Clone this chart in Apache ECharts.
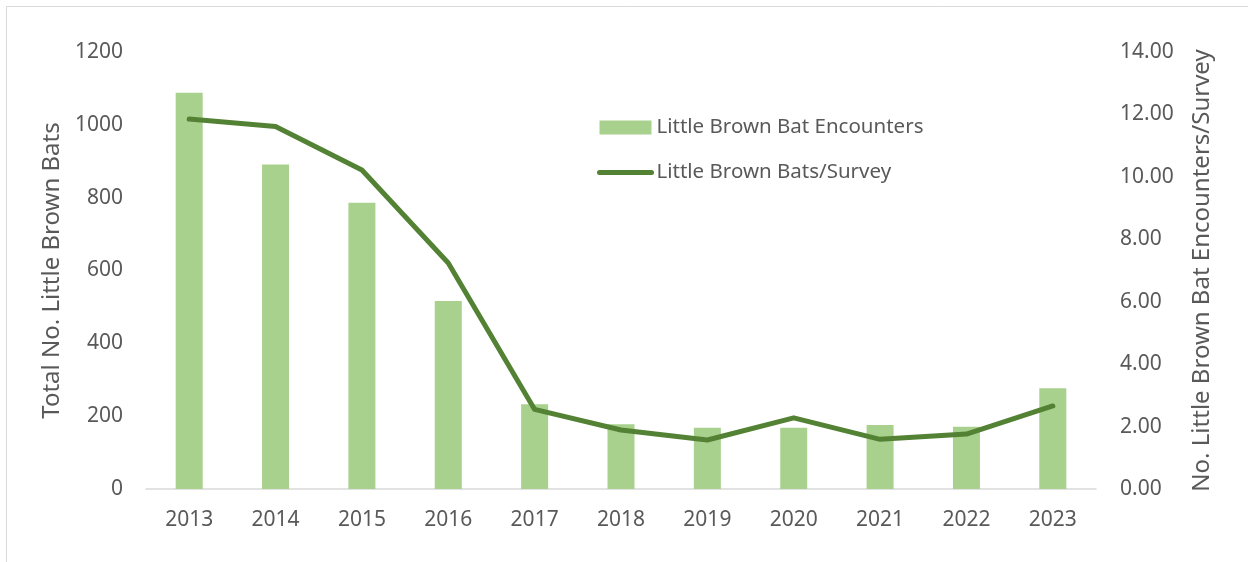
<!DOCTYPE html>
<html style="height: 100%">
<head>
<meta charset="utf-8">
<title>Little Brown Bats</title>
<script src="https://cdn.jsdelivr.net/npm/echarts@6/dist/echarts.min.js"></script>
</head>
<body style="margin: 0; background: #fff">
<div id="container" style="height: 562px; width: 1248px;"></div>
<script type="text/javascript">
var years = ['2013','2014','2015','2016','2017','2018','2019','2020','2021','2022','2023'];
var encounters = [1088, 891, 786, 516, 233, 178, 168, 168, 176, 171, 277];
var perSurvey = [11.85, 11.61, 10.22, 7.24, 2.55, 1.89, 1.57, 2.28, 1.59, 1.76, 2.66];

var textColor = '#595959';
var fontFam = '"Noto Sans", sans-serif';

var myChart = echarts.init(document.getElementById('container'));

var option = {
    animation: false,
    textStyle: { fontFamily: fontFam },
    graphic: [{
        type: 'rect',
        shape: { x: 6.5, y: 6.5, width: 1260, height: 580 },
        style: { fill: 'none', stroke: '#D9D9D9', lineWidth: 1 },
        silent: true
    }],
    grid: { left: 146, right: 152, top: 52, bottom: 73 },
    legend: {
        orient: 'vertical',
        left: 597,
        top: 117,
        padding: 0,
        itemWidth: 52,
        itemHeight: 14,
        itemGap: 24,
        itemTextGap: 6,
        textStyle: { color: textColor, fontSize: 20.5, fontFamily: fontFam },
        data: [
            { name: 'Little Brown Bat Encounters', icon: 'rect' },
            {
                name: 'Little Brown Bats/Survey',
                itemStyle: { opacity: 0 },
                lineStyle: { width: 5, cap: 'round', color: '#548235' }
            }
        ]
    },
    xAxis: {
        type: 'category',
        data: years,
        axisLine: { lineStyle: { color: '#D9D9D9', width: 1.5 } },
        axisTick: { show: false },
        axisLabel: { color: textColor, fontSize: 21, margin: 21 }
    },
    yAxis: [{
        type: 'value',
        min: 0, max: 1200, interval: 200,
        name: 'Total No. Little Brown Bats',
        nameLocation: 'middle',
        nameGap: 71,
        nameTextStyle: { color: textColor, fontSize: 24 },
        splitLine: { show: false },
        axisLine: { show: false },
        axisTick: { show: false },
        axisLabel: {
            color: textColor, fontSize: 21, margin: 23,
            formatter: function (v) { return String(v); }
        }
    }, {
        type: 'value',
        min: 0, max: 14, interval: 2,
        name: 'No. Little Brown Bat Encounters/Survey',
        nameLocation: 'middle',
        nameGap: 94,
        nameTextStyle: { color: textColor, fontSize: 24 },
        splitLine: { show: false },
        axisLine: { show: false },
        axisTick: { show: false },
        axisLabel: {
            color: textColor, fontSize: 21, margin: 24,
            formatter: function (v) { return v.toFixed(2); }
        }
    }],
    series: [{
        name: 'Little Brown Bat Encounters',
        type: 'bar',
        data: encounters,
        barWidth: 27,
        itemStyle: { color: '#A9D18E' }
    }, {
        name: 'Little Brown Bats/Survey',
        type: 'line',
        yAxisIndex: 1,
        data: perSurvey,
        showSymbol: false,
        symbol: 'none',
        lineStyle: { color: '#548235', width: 5, cap: 'round', join: 'round' },
        itemStyle: { color: '#548235' }
    }]
};

myChart.setOption(option);
</script>
</body>
</html>
